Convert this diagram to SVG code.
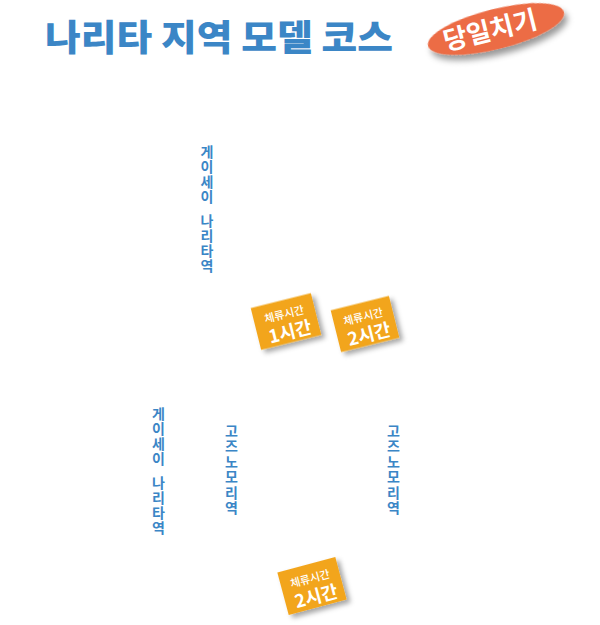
<svg xmlns="http://www.w3.org/2000/svg" width="600" height="625" viewBox="0 0 600 625">
<defs>
<filter id="sh" x="-30%" y="-30%" width="160%" height="170%">
<feDropShadow dx="3" dy="4" stdDeviation="2.5" flood-color="#000" flood-opacity="0.35"/>
</filter>
<filter id="sh2" x="-30%" y="-40%" width="160%" height="190%">
<feDropShadow dx="2" dy="6" stdDeviation="3" flood-color="#000" flood-opacity="0.4"/>
</filter>
</defs>
<style>
text{font-family:"Noto Sans CJK KR","Noto Sans",sans-serif;}
.title{font-size:36px;font-weight:900;fill:#3b86c6;}
.vt{font-size:14px;font-weight:700;fill:#3b86c6;text-anchor:middle;}
.badge{fill:#f2a51c;filter:url(#sh);}
.bs{font-size:11px;font-weight:500;fill:#fff;text-anchor:middle;}
.bl{font-size:18px;font-weight:700;fill:#fff;text-anchor:middle;}
</style>
<rect width="600" height="625" fill="#fff"/>
<g id="title">
<text class="title" x="45" y="51" textLength="348" lengthAdjust="spacingAndGlyphs">나리타 지역 모델 코스</text>
</g>
<g id="daytrip" transform="translate(496,29) rotate(-14)">
<ellipse rx="70" ry="20" fill="#ec6c45" filter="url(#sh2)"/>
<text x="-6" y="9" font-size="26" font-weight="700" fill="#fff" text-anchor="middle">당일치기</text>
</g>
<g id="station-keisei-1">
<text class="vt"><tspan x="207" y="157">게</tspan><tspan x="207" y="172">이</tspan><tspan x="207" y="187">세</tspan><tspan x="207" y="202">이</tspan><tspan x="207" y="226">나</tspan><tspan x="207" y="241">리</tspan><tspan x="207" y="256">타</tspan><tspan x="207" y="271">역</tspan></text>
</g>
<g id="station-keisei-2">
<text class="vt"><tspan x="158.5" y="419">게</tspan><tspan x="158.5" y="434">이</tspan><tspan x="158.5" y="449">세</tspan><tspan x="158.5" y="464">이</tspan><tspan x="158.5" y="488">나</tspan><tspan x="158.5" y="503">리</tspan><tspan x="158.5" y="518">타</tspan><tspan x="158.5" y="533">역</tspan></text>
</g>
<g id="station-gozunomori-1">
<text class="vt"><tspan x="231.5" y="436">고</tspan><tspan x="231.5" y="451.4">즈</tspan><tspan x="231.5" y="466.8">노</tspan><tspan x="231.5" y="482.2">모</tspan><tspan x="231.5" y="497.6">리</tspan><tspan x="231.5" y="513">역</tspan></text>
</g>
<g id="station-gozunomori-2">
<text class="vt"><tspan x="393.5" y="436">고</tspan><tspan x="393.5" y="451.4">즈</tspan><tspan x="393.5" y="466.8">노</tspan><tspan x="393.5" y="482.2">모</tspan><tspan x="393.5" y="497.6">리</tspan><tspan x="393.5" y="513">역</tspan></text>
</g>
<g id="badge-1" transform="translate(286,321.5) rotate(-14)">
<rect class="badge" x="-31" y="-21.5" width="62" height="43"/>
<text class="bs" x="0" y="-3.5">체류시간</text>
<text class="bl" x="1.5" y="17.5">1시간</text>
</g>
<g id="badge-2" transform="translate(365,324) rotate(-14)">
<rect class="badge" x="-30" y="-21.5" width="60" height="43"/>
<text class="bs" x="0" y="-3.5">체류시간</text>
<text class="bl" x="1.5" y="17.5">2시간</text>
</g>
<g id="badge-3" transform="translate(312,586) rotate(-15)">
<rect class="badge" x="-30" y="-22" width="60" height="44"/>
<text class="bs" x="0" y="-3.5">체류시간</text>
<text class="bl" x="1.5" y="17.5">2시간</text>
</g>
<g id="connectors"/>
</svg>
